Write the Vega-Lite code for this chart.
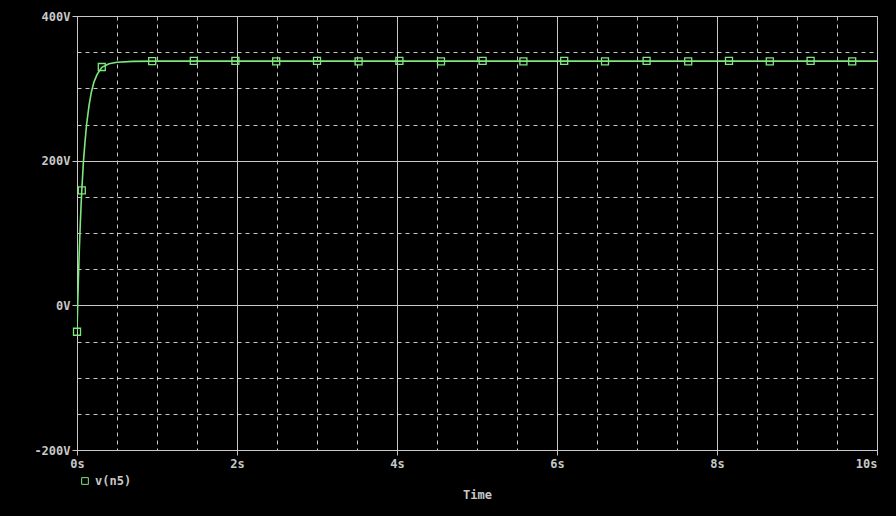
{
  "$schema": "https://vega.github.io/schema/vega-lite/v6.json",
  "width": 800,
  "height": 434,
  "autosize": {"type": "none"},
  "padding": {"left": 77, "top": 16, "right": 19, "bottom": 66},
  "background": "#000000",
  "config": {
    "view": {"fill": "#000000", "stroke": "#c8c8c8", "strokeWidth": 1},
    "font": "DejaVu Sans Mono"
  },
  "datasets": {
    "curve": [
      {"t": 0, "v": -36},
      {"t": 0.01, "v": 7},
      {"t": 0.02, "v": 46},
      {"t": 0.03, "v": 80},
      {"t": 0.04, "v": 109},
      {"t": 0.05, "v": 136},
      {"t": 0.06, "v": 159},
      {"t": 0.08, "v": 198},
      {"t": 0.1, "v": 226},
      {"t": 0.12, "v": 250},
      {"t": 0.15, "v": 276},
      {"t": 0.18, "v": 295},
      {"t": 0.21, "v": 308},
      {"t": 0.25, "v": 319},
      {"t": 0.31, "v": 329},
      {"t": 0.4, "v": 334},
      {"t": 0.5, "v": 336},
      {"t": 0.7, "v": 337.3},
      {"t": 1.0, "v": 337.6},
      {"t": 10, "v": 337.6}
    ],
    "markers": [
      {"t": 0, "v": -36.5, "series": "v(n5)"},
      {"t": 0.06, "v": 159, "series": "v(n5)"},
      {"t": 0.31, "v": 329.5, "series": "v(n5)"},
      {"t": 0.94, "v": 337.5, "series": "v(n5)"},
      {"t": 1.46, "v": 338, "series": "v(n5)"},
      {"t": 1.98, "v": 338, "series": "v(n5)"},
      {"t": 2.49, "v": 337.3, "series": "v(n5)"},
      {"t": 3.0, "v": 338, "series": "v(n5)"},
      {"t": 3.52, "v": 337.3, "series": "v(n5)"},
      {"t": 4.03, "v": 338, "series": "v(n5)"},
      {"t": 4.55, "v": 337.3, "series": "v(n5)"},
      {"t": 5.07, "v": 338, "series": "v(n5)"},
      {"t": 5.58, "v": 337.3, "series": "v(n5)"},
      {"t": 6.09, "v": 338, "series": "v(n5)"},
      {"t": 6.6, "v": 337.3, "series": "v(n5)"},
      {"t": 7.12, "v": 338, "series": "v(n5)"},
      {"t": 7.64, "v": 337.3, "series": "v(n5)"},
      {"t": 8.15, "v": 338, "series": "v(n5)"},
      {"t": 8.66, "v": 337.3, "series": "v(n5)"},
      {"t": 9.17, "v": 338, "series": "v(n5)"},
      {"t": 9.69, "v": 337.3, "series": "v(n5)"}
    ]
  },
  "encoding": {
    "x": {
      "field": "t",
      "type": "quantitative",
      "scale": {"domain": [0, 10], "nice": false, "zero": false},
      "axis": {
        "values": [0, 0.5, 1, 1.5, 2, 2.5, 3, 3.5, 4, 4.5, 5, 5.5, 6, 6.5, 7, 7.5, 8, 8.5, 9, 9.5, 10],
        "labelExpr": "datum.value % 2 === 0 ? datum.value + 's' : ''",
        "grid": true,
        "gridColor": "#c8c8c8",
        "gridWidth": 1,
        "gridDash": {"condition": {"test": "datum.value % 2 !== 0", "value": [4, 4]}, "value": []},
        "tickSize": 5,
        "tickColor": "#c8c8c8",
        "tickOpacity": {"condition": {"test": "datum.value % 2 !== 0", "value": 0}, "value": 1},
        "domainColor": "#c8c8c8",
        "labelColor": "#c8c8c8",
        "labelFont": "DejaVu Sans Mono",
        "labelFontSize": 12,
        "labelFontWeight": "bold",
        "labelPadding": 3,
        "labelFlush": false,
        "labelOverlap": false,
        "labelAlign": {"condition": {"test": "datum.value === 10", "value": "right"}, "value": "center"},
        "title": "Time",
        "titleColor": "#c8c8c8",
        "titleFont": "DejaVu Sans Mono",
        "titleFontSize": 12,
        "titleFontWeight": "bold",
        "titlePadding": 20
      }
    },
    "y": {
      "field": "v",
      "type": "quantitative",
      "scale": {"domain": [-200, 400], "nice": false, "zero": false},
      "axis": {
        "values": [-200, -150, -100, -50, 0, 50, 100, 150, 200, 250, 300, 350, 400],
        "labelExpr": "datum.value % 200 === 0 ? datum.value + 'V' : ''",
        "grid": true,
        "gridColor": "#c8c8c8",
        "gridWidth": 1,
        "gridDash": {"condition": {"test": "datum.value % 200 !== 0", "value": [4, 4]}, "value": []},
        "tickSize": 5,
        "tickColor": "#c8c8c8",
        "tickOpacity": {"condition": {"test": "datum.value % 200 !== 0", "value": 0}, "value": 1},
        "domainColor": "#c8c8c8",
        "labelColor": "#c8c8c8",
        "labelFont": "DejaVu Sans Mono",
        "labelFontSize": 12,
        "labelFontWeight": "bold",
        "labelPadding": 2,
        "labelOverlap": false,
        "title": null
      }
    }
  },
  "layer": [
    {
      "data": {"name": "curve"},
      "mark": {"type": "line", "color": "#7de87d", "strokeWidth": 1.6, "clip": true}
    },
    {
      "data": {"name": "markers"},
      "mark": {"type": "point", "shape": "square", "filled": false, "size": 49, "strokeWidth": 1.3, "opacity": 1, "clip": false},
      "encoding": {
        "color": {
          "field": "series",
          "type": "nominal",
          "scale": {"range": ["#7de87d"]},
          "legend": {
            "orient": "none",
            "legendX": 2,
            "legendY": 459,
            "title": null,
            "padding": 0,
            "symbolType": "square",
            "symbolSize": 45,
            "symbolStrokeWidth": 1,
            "symbolFillColor": "transparent",
            "labelColor": "#c8c8c8",
            "labelFont": "DejaVu Sans Mono",
            "labelFontSize": 12,
            "labelFontWeight": "bold",
            "labelOffset": 4
          }
        }
      }
    }
  ]
}
